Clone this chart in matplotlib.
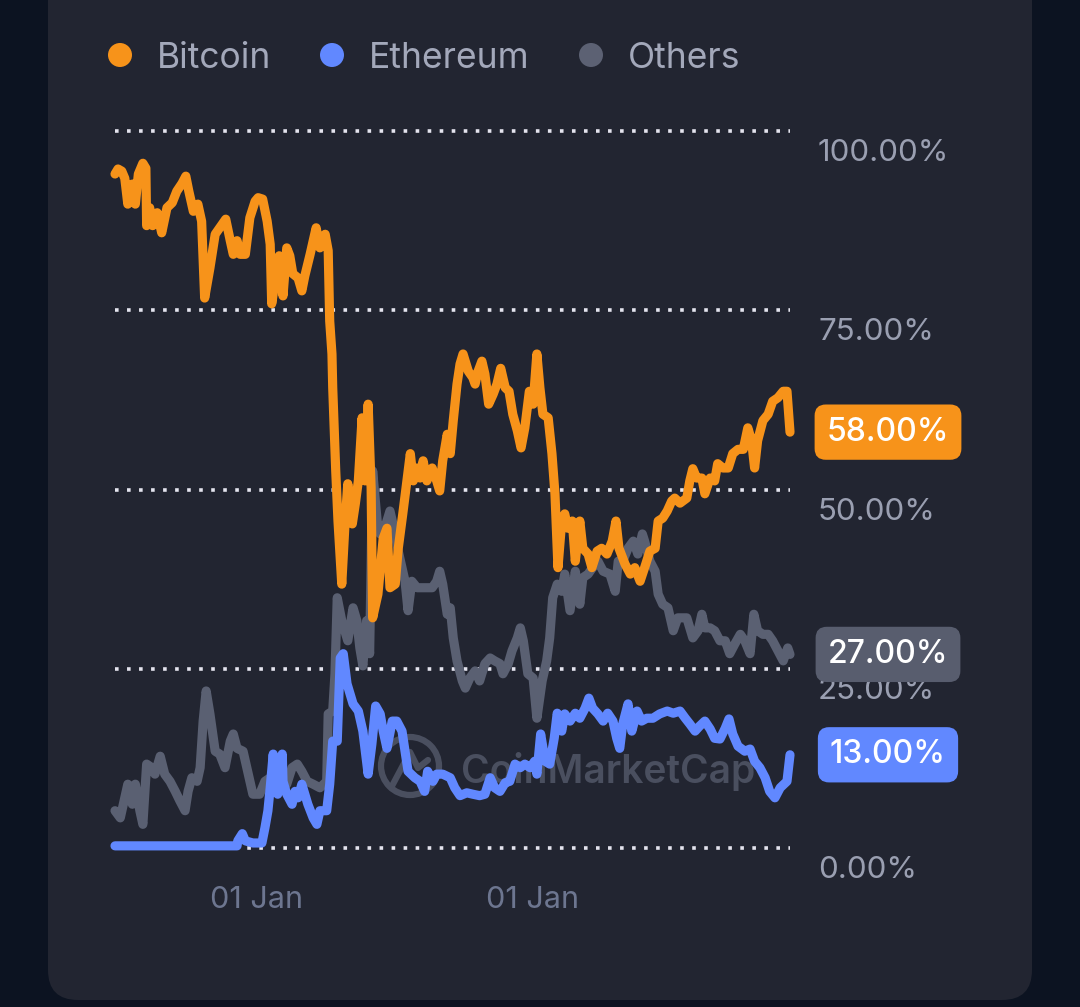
import matplotlib
matplotlib.use("Agg")
import matplotlib.pyplot as plt
from matplotlib.patches import FancyBboxPatch, Circle, Ellipse
from matplotlib.lines import Line2D
import matplotlib.transforms as mtransforms

plt.rcParams['font.family'] = ['Inter', 'DejaVu Sans']

# dominance data, day index from start of series, share in %
btc_days = [0, 4, 9, 13, 17, 23, 27, 31, 37, 41, 42, 46, 50, 56, 62, 69, 76, 82, 89, 94,
            98, 104, 110, 115, 119, 126, 133, 139, 147, 153, 157, 162, 166, 173, 179, 186, 190, 196, 202, 206,
            208, 214, 218, 223, 228, 232, 236, 243, 248, 252, 259, 267, 272, 279, 283, 285, 288, 289, 293, 296,
            301, 305, 309, 315, 319, 323, 328, 332, 336, 340, 342, 349, 356, 361, 365, 372, 376, 382, 388, 392,
            396, 401, 405, 409, 414, 421, 427, 431, 435, 441, 445, 449, 454, 458, 462, 469, 475, 478, 482, 487,
            491, 496, 502, 507, 512, 518, 523, 528, 534, 539, 544, 550, 555, 560, 564, 568, 575, 580, 584, 588,
            593, 597, 601, 607, 611, 617, 621, 628, 633, 640, 646, 653, 660, 665, 669, 677, 684, 690, 697, 703,
            710, 717, 721, 727, 733, 739, 743, 750, 759, 763, 767, 772, 779, 783, 790, 796, 800, 807, 814, 820,
            827, 834, 840, 845, 849, 853, 860, 867, 873, 880, 887, 892, 896]
btc_share = [94.0, 94.7, 94.4, 93.4, 89.8, 92.6, 89.8, 94.0, 95.5, 94.8, 86.8, 89.3, 86.8, 88.6, 85.8, 89.3, 90.0, 91.6, 92.7, 93.7,
             91.6, 88.8, 89.8, 87.4, 76.7, 80.9, 85.6, 86.5, 87.7, 84.7, 82.8, 84.7, 82.8, 82.8, 87.9, 90.2, 90.7, 90.5, 87.4, 84.2,
             75.9, 80.1, 82.6, 77.0, 83.7, 82.6, 80.1, 79.5, 77.7, 79.8, 82.8, 86.5, 83.7, 85.6, 83.3, 73.5, 68.9, 64.2, 52.6, 45.6,
             36.8, 44.6, 50.8, 45.2, 48.0, 51.2, 60.0, 51.2, 61.9, 50.2, 32.1, 35.4, 43.2, 44.6, 36.3, 36.8, 41.8, 46.6, 51.6, 55.0,
             51.2, 53.0, 51.6, 54.0, 51.2, 53.0, 51.2, 49.8, 54.0, 57.7, 55.0, 59.6, 64.7, 67.5, 68.9, 66.5, 65.6, 64.7, 66.5, 67.9,
             66.1, 61.9, 63.3, 64.7, 66.9, 64.2, 63.7, 60.5, 58.2, 55.8, 58.6, 63.7, 61.9, 68.9, 64.2, 60.5, 60.0, 55.0, 49.4, 39.1,
             45.6, 46.6, 44.6, 45.6, 40.0, 45.6, 41.8, 41.0, 39.1, 41.4, 41.8, 41.0, 42.8, 45.6, 41.8, 39.6, 38.2, 39.1, 37.2, 39.1,
             41.4, 41.8, 45.6, 46.0, 47.0, 48.4, 48.8, 48.1, 48.8, 51.2, 52.9, 51.6, 51.6, 49.4, 51.6, 51.2, 53.6, 53.0, 53.0, 55.0,
             55.6, 55.6, 58.6, 56.8, 53.0, 56.8, 59.6, 60.5, 62.3, 62.8, 63.7, 63.7, 58.0]

eth_days = [0, 162, 163, 169, 173, 183, 195, 199, 203, 206, 210, 212, 216, 222, 223, 228, 235, 239, 243, 248,
            252, 256, 263, 268, 272, 281, 285, 289, 295, 299, 303, 308, 316, 323, 329, 336, 341, 346, 352, 356,
            361, 368, 374, 381, 385, 389, 398, 405, 411, 415, 422, 427, 435, 445, 451, 458, 467, 475, 484, 491,
            498, 504, 511, 518, 524, 531, 538, 544, 551, 557, 560, 565, 571, 577, 583, 587, 593, 597, 604, 611,
            617, 624, 629, 634, 641, 648, 654, 661, 666, 670, 674, 681, 686, 693, 699, 706, 714, 723, 733, 741,
            750, 757, 763, 770, 776, 783, 790, 796, 803, 810, 815, 820, 827, 836, 843, 849, 856, 863, 869, 876,
            883, 892, 896]
eth_share = [0.3, 0.3, 1.0, 2.0, 1.0, 0.7, 0.7, 2.8, 5.2, 8.4, 13.1, 9.3, 7.5, 13.1, 9.3, 7.5, 6.1, 7.9, 7.0, 8.9,
             7.5, 6.1, 4.2, 3.3, 5.2, 5.2, 8.9, 14.9, 14.9, 26.5, 27.1, 22.9, 20.1, 19.1, 16.3, 10.3, 14.5, 19.8, 18.7, 16.3,
             13.9, 17.7, 17.7, 16.3, 13.5, 10.7, 9.8, 9.3, 7.9, 10.7, 9.3, 10.3, 10.3, 9.8, 8.4, 7.3, 7.7, 7.5, 7.3, 7.5,
             9.8, 8.4, 7.9, 9.1, 9.3, 11.7, 11.2, 11.7, 11.2, 12.1, 10.3, 15.9, 12.1, 11.7, 15.3, 18.8, 16.3, 18.7, 17.7, 18.8,
             18.1, 19.5, 20.9, 19.5, 18.7, 17.7, 18.8, 17.7, 15.3, 13.9, 17.3, 20.1, 16.3, 19.1, 17.7, 18.1, 18.1, 18.7, 19.1, 18.8,
             19.1, 18.1, 17.3, 16.3, 17.0, 17.7, 16.6, 15.3, 15.2, 16.7, 18.0, 15.9, 14.2, 13.5, 13.8, 12.1, 11.2, 9.8, 7.9, 7.0,
             8.4, 9.3, 13.0]

oth_days = [0, 7, 11, 17, 23, 27, 33, 37, 42, 49, 53, 60, 66, 73, 80, 86, 93, 97, 102, 109,
            113, 117, 121, 126, 133, 139, 146, 153, 157, 162, 170, 177, 183, 192, 199, 206, 215, 222, 228, 235,
            242, 248, 255, 263, 272, 281, 283, 289, 292, 295, 301, 305, 309, 316, 321, 325, 329, 334, 338, 342,
            348, 352, 358, 365, 372, 376, 381, 385, 389, 394, 401, 409, 421, 427, 431, 435, 441, 445, 449, 454,
            461, 465, 471, 478, 484, 491, 498, 504, 511, 515, 522, 527, 534, 538, 542, 548, 555, 560, 567, 573,
            577, 581, 587, 593, 597, 604, 611, 617, 621, 628, 634, 641, 648, 657, 664, 668, 674, 681, 688, 694,
            700, 703, 710, 717, 721, 727, 734, 741, 747, 759, 767, 774, 779, 783, 790, 796, 803, 810, 816, 823,
            830, 836, 843, 848, 853, 860, 867, 873, 880, 887, 893, 896]
oth_share = [5.2, 4.2, 6.1, 8.9, 6.1, 8.9, 5.2, 3.3, 11.7, 11.2, 10.3, 12.8, 10.3, 9.3, 7.9, 6.6, 5.2, 7.9, 9.8, 9.3,
             11.2, 17.7, 21.9, 18.7, 13.5, 13.1, 11.2, 14.9, 15.9, 13.9, 13.5, 10.3, 7.5, 7.5, 9.3, 9.8, 9.3, 8.4, 8.9, 11.2,
             11.7, 10.7, 9.3, 8.9, 8.4, 9.3, 18.7, 19.1, 24.3, 34.9, 31.7, 30.3, 28.9, 33.5, 31.7, 27.9, 25.4, 31.7, 27.1, 52.6,
             45.6, 43.8, 44.6, 47.0, 43.8, 41.4, 39.1, 37.2, 33.1, 37.2, 36.3, 36.3, 36.3, 37.2, 38.6, 36.8, 32.6, 33.5, 29.3, 26.1,
             23.3, 22.3, 23.7, 24.7, 23.3, 25.7, 26.5, 26.1, 25.7, 24.3, 25.7, 27.5, 29.3, 30.7, 28.9, 24.3, 23.7, 18.1, 23.3, 26.1,
             29.3, 34.9, 36.8, 35.8, 38.2, 33.1, 38.6, 34.0, 37.7, 38.2, 39.1, 40.0, 38.6, 38.2, 35.8, 40.0, 40.0, 41.8, 42.8, 41.0,
             43.8, 42.8, 40.0, 38.6, 35.4, 34.0, 33.5, 30.3, 32.1, 32.1, 29.3, 30.3, 32.6, 30.7, 30.7, 30.3, 28.9, 28.9, 27.1, 28.5,
             29.8, 28.9, 27.1, 32.6, 30.3, 29.8, 29.8, 28.9, 27.5, 26.1, 27.9, 27.0]

series_names = ["Bitcoin", "Ethereum", "Others"]
series_colors = ["#f7931a", "#6188ff", "#5a6072"]
box_colors = ["#f7931a", "#6188ff", "#585d6e"]
last_values = [58.0, 13.0, 27.0]
y_ticks = [0, 25, 50, 75, 100]
x_tick_days = [188, 554]
x_tick_labels = ["01 Jan", "01 Jan"]

W, H = 1080, 1007
fig = plt.figure(figsize=(W / 100, H / 100), dpi=100)
fig.patch.set_facecolor("#0c1321")

# card background
card = FancyBboxPatch((0.48, 0.07), 9.84, 10.5, boxstyle="round,pad=0,rounding_size=0.3",
                      transform=fig.dpi_scale_trans, fc="#222531", ec="none", zorder=0)
fig.add_artist(card)

ax = fig.add_axes([115 / W, 1 - 848 / H, 675 / W, 717 / H])
ax.set_facecolor("none")
for s in ax.spines.values():
    s.set_visible(False)
ax.set_xlim(0, 896)
ax.set_ylim(0, 100)

# dotted grid
for yv in y_ticks:
    ax.axhline(yv, color="#e4e4ee", lw=2.6, linestyle=(0, (1, 2.33)),
               dash_capstyle="butt", zorder=1, clip_on=False)

# watermark
wm = "#4a4f5f"
ax.add_patch(Ellipse(((410 - 115) / 675, (848 - 766) / 717), 58 / 675, 58 / 717,
                     transform=ax.transAxes, fill=False, ec=wm, lw=4.5, zorder=1.5))
ax.add_line(Line2D([(392 - 115) / 675, (410 - 115) / 675, (418 - 115) / 675, (428 - 115) / 675],
                   [(848 - 786) / 717, (848 - 752) / 717, (848 - 768) / 717, (848 - 760) / 717],
                   transform=ax.transAxes, color=wm, lw=4.5, zorder=1.5, solid_capstyle="round"))
ax.text((461 - 115) / 675, (848 - 783) / 717, "CoinMarketCap", transform=ax.transAxes,
        fontsize=28, fontweight="semibold", color=wm, ha="left", va="baseline", zorder=1.5)

# series lines
lw = 6.6
ax.plot(oth_days, oth_share, color=series_colors[2], lw=lw, solid_joinstyle="round",
        solid_capstyle="round", zorder=3, clip_on=False)
ax.plot(eth_days, eth_share, color=series_colors[1], lw=lw, solid_joinstyle="round",
        solid_capstyle="round", zorder=3.5, clip_on=False)
ax.plot(btc_days, btc_share, color=series_colors[0], lw=lw, solid_joinstyle="round",
        solid_capstyle="round", zorder=4, clip_on=False)

# y labels on the right
ax.set_yticks([])
lab_tr = mtransforms.offset_copy(ax.get_yaxis_transform(), fig=fig, y=-30, units="dots")
for yv in y_ticks:
    ax.text(703 / 675, yv, f"{yv:.2f}%", transform=lab_tr, fontsize=22.5, color="#9a9fb1",
            ha="left", va="baseline", zorder=5, clip_on=False)

# current value boxes
for val, col in zip(last_values, box_colors):
    ax.text((888 - 115) / 675, val, f"{val:.2f}%", transform=ax.get_yaxis_transform(),
            fontsize=23, fontweight="medium", color="white", ha="center", va="center", zorder=6,
            clip_on=False,
            bbox=dict(boxstyle="round,pad=0.38,rounding_size=0.35", fc=col, ec="none"))

# x ticks
ax.set_xticks(x_tick_days)
ax.set_xticklabels(x_tick_labels)
ax.tick_params(axis="x", length=0, pad=27, labelsize=22, labelcolor="#6d7690")

# legend
dot_x = [120, 332, 591]
txt_x = [157, 369, 628]
for name, col, dx, tx in zip(series_names, series_colors, dot_x, txt_x):
    fig.add_artist(Circle((dx / 100, (H - 55) / 100), 0.12, transform=fig.dpi_scale_trans,
                          fc=col if name != "Others" else "#5c6173", ec="none"))
    fig.text(tx / W, 1 - 68 / H, name, fontsize=25.5, color="#a3a8ba", ha="left", va="baseline")

fig.savefig("out.png", dpi=100, facecolor=fig.get_facecolor())
